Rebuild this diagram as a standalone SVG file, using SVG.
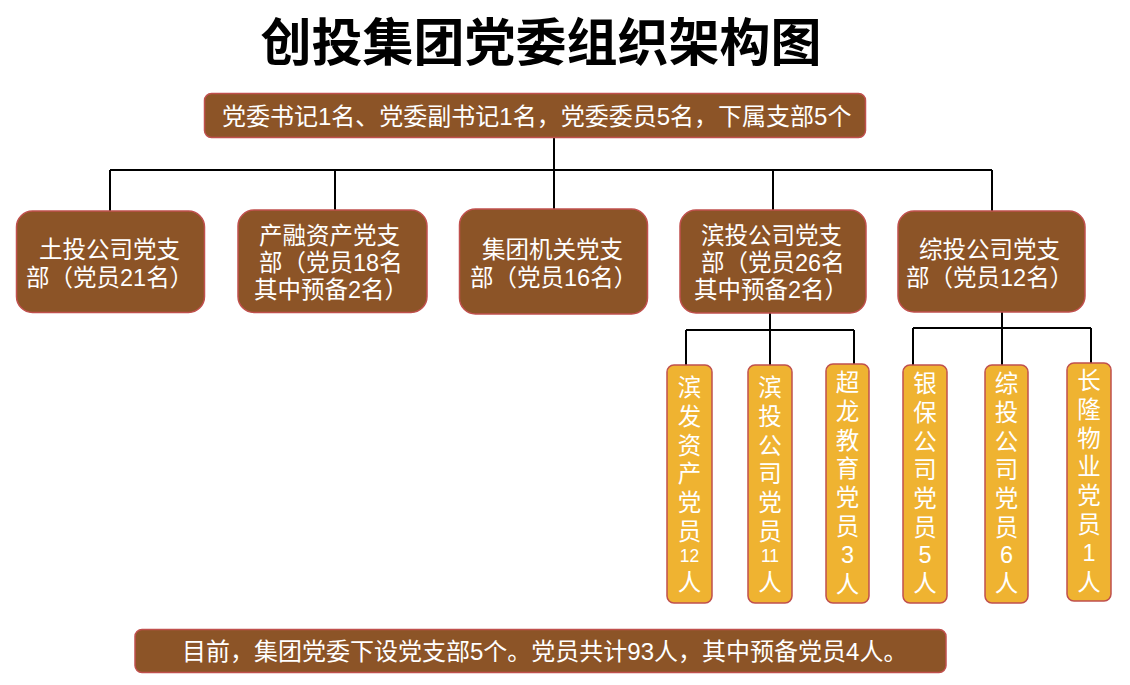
<svg xmlns="http://www.w3.org/2000/svg" width="1130" height="685" viewBox="0 0 1130 685">
<style>
  text { font-family: "Liberation Sans", "Noto Sans CJK SC", sans-serif; fill: #ffffff; font-size: 23.5px; }
  .title { font-family: "Noto Sans CJK SC", sans-serif; font-weight: bold; font-size: 51px; fill: #000000; }
  .wide { font-size: 24px; }
  .brown { fill: #8C5427; stroke: #C0504D; stroke-width: 1.5; }
  .gold { fill: #EFB331; stroke: #C0504D; stroke-width: 1.5; }
  .small { font-size: 17.5px; }
  .v { text-anchor: middle; }
  #connectors path { fill: none; stroke: #000000; stroke-width: 2; }
</style>
<rect width="1130" height="685" fill="#ffffff"/>
<text class="title" x="541" y="61" text-anchor="middle">创投集团党委组织架构图</text>

<g id="connectors">
  <path d="M554 138 V170 M110 170 H992 M110 170 V211 M335 170 V210 M554 170 V209 M773 170 V210 M992 170 V211"/>
  <path d="M770 313 V365 M686 330 H854 M686 330 V365 M854 330 V364"/>
  <path d="M1002 312 V365 M913 328 H1091 M913 328 V365 M1091 328 V363"/>
</g>

<g id="top">
  <rect class="brown" x="204.5" y="93.5" width="661" height="44" rx="7"/>
  <text class="wide" x="222" y="125">党委书记1名、党委副书记1名，党委委员5名，下属支部5个</text>
</g>

<g id="branch-tutou">
  <rect class="brown" x="16.5" y="211" width="188" height="101.5" rx="16"/>
  <text x="39" y="258">土投公司党支</text>
  <text x="26" y="286">部（党员21名）</text>
</g>
<g id="branch-chanrong">
  <rect class="brown" x="238" y="210" width="189" height="102.5" rx="16"/>
  <text x="259" y="244">产融资产党支</text>
  <text x="259" y="271">部（党员18名</text>
  <text x="254" y="298">其中预备2名）</text>
</g>
<g id="branch-jituan">
  <rect class="brown" x="459.5" y="209" width="188" height="105" rx="16"/>
  <text x="482" y="258">集团机关党支</text>
  <text x="470" y="286">部（党员16名）</text>
</g>
<g id="branch-bintou">
  <rect class="brown" x="680" y="210" width="186" height="103" rx="16"/>
  <text x="701" y="244">滨投公司党支</text>
  <text x="701" y="271">部（党员26名</text>
  <text x="694" y="298">其中预备2名）</text>
</g>
<g id="branch-zongtou">
  <rect class="brown" x="898" y="211" width="187" height="101" rx="16"/>
  <text x="919" y="258">综投公司党支</text>
  <text x="906" y="286">部（党员12名）</text>
</g>

<g id="sub-binfa">
  <rect class="gold" x="667" y="365" width="45" height="238" rx="7"/>
  <text class="v" x="689.5" y="396">滨</text>
  <text class="v" x="689.5" y="424.8">发</text>
  <text class="v" x="689.5" y="453.6">资</text>
  <text class="v" x="689.5" y="482.4">产</text>
  <text class="v" x="689.5" y="511.2">党</text>
  <text class="v" x="689.5" y="540">员</text>
  <text class="v small" x="689.5" y="562">12</text>
  <text class="v" x="689.5" y="591">人</text>
</g>
<g id="sub-bintou">
  <rect class="gold" x="748" y="365" width="44" height="238" rx="7"/>
  <text class="v" x="770" y="396">滨</text>
  <text class="v" x="770" y="424.8">投</text>
  <text class="v" x="770" y="453.6">公</text>
  <text class="v" x="770" y="482.4">司</text>
  <text class="v" x="770" y="511.2">党</text>
  <text class="v" x="770" y="540">员</text>
  <text class="v small" x="770" y="562">11</text>
  <text class="v" x="770" y="591">人</text>
</g>
<g id="sub-chaolong">
  <rect class="gold" x="826" y="364" width="43" height="239" rx="7"/>
  <text class="v" x="847.5" y="391">超</text>
  <text class="v" x="847.5" y="419.8">龙</text>
  <text class="v" x="847.5" y="448.6">教</text>
  <text class="v" x="847.5" y="477.4">育</text>
  <text class="v" x="847.5" y="506.2">党</text>
  <text class="v" x="847.5" y="535">员</text>
  <text class="v" x="847.5" y="563">3</text>
  <text class="v" x="847.5" y="593">人</text>
</g>
<g id="sub-yinbao">
  <rect class="gold" x="903" y="365" width="44" height="238" rx="7"/>
  <text class="v" x="925" y="392">银</text>
  <text class="v" x="925" y="420.8">保</text>
  <text class="v" x="925" y="449.6">公</text>
  <text class="v" x="925" y="478.4">司</text>
  <text class="v" x="925" y="507.2">党</text>
  <text class="v" x="925" y="536">员</text>
  <text class="v" x="925" y="563">5</text>
  <text class="v" x="925" y="592">人</text>
</g>
<g id="sub-zongtou">
  <rect class="gold" x="985" y="365" width="43" height="238" rx="7"/>
  <text class="v" x="1006.5" y="392">综</text>
  <text class="v" x="1006.5" y="420.8">投</text>
  <text class="v" x="1006.5" y="449.6">公</text>
  <text class="v" x="1006.5" y="478.4">司</text>
  <text class="v" x="1006.5" y="507.2">党</text>
  <text class="v" x="1006.5" y="536">员</text>
  <text class="v" x="1006.5" y="563">6</text>
  <text class="v" x="1006.5" y="592">人</text>
</g>
<g id="sub-changlong">
  <rect class="gold" x="1067" y="363" width="44" height="238" rx="7"/>
  <text class="v" x="1089" y="389">长</text>
  <text class="v" x="1089" y="417.8">隆</text>
  <text class="v" x="1089" y="446.6">物</text>
  <text class="v" x="1089" y="475.4">业</text>
  <text class="v" x="1089" y="504.2">党</text>
  <text class="v" x="1089" y="533">员</text>
  <text class="v" x="1089" y="561">1</text>
  <text class="v" x="1089" y="591">人</text>
</g>

<g id="summary">
  <rect class="brown" x="135" y="629.5" width="811" height="43" rx="7"/>
  <text class="wide" x="182" y="660">目前，集团党委下设党支部5个。党员共计93人，其中预备党员4人。</text>
</g>
</svg>
